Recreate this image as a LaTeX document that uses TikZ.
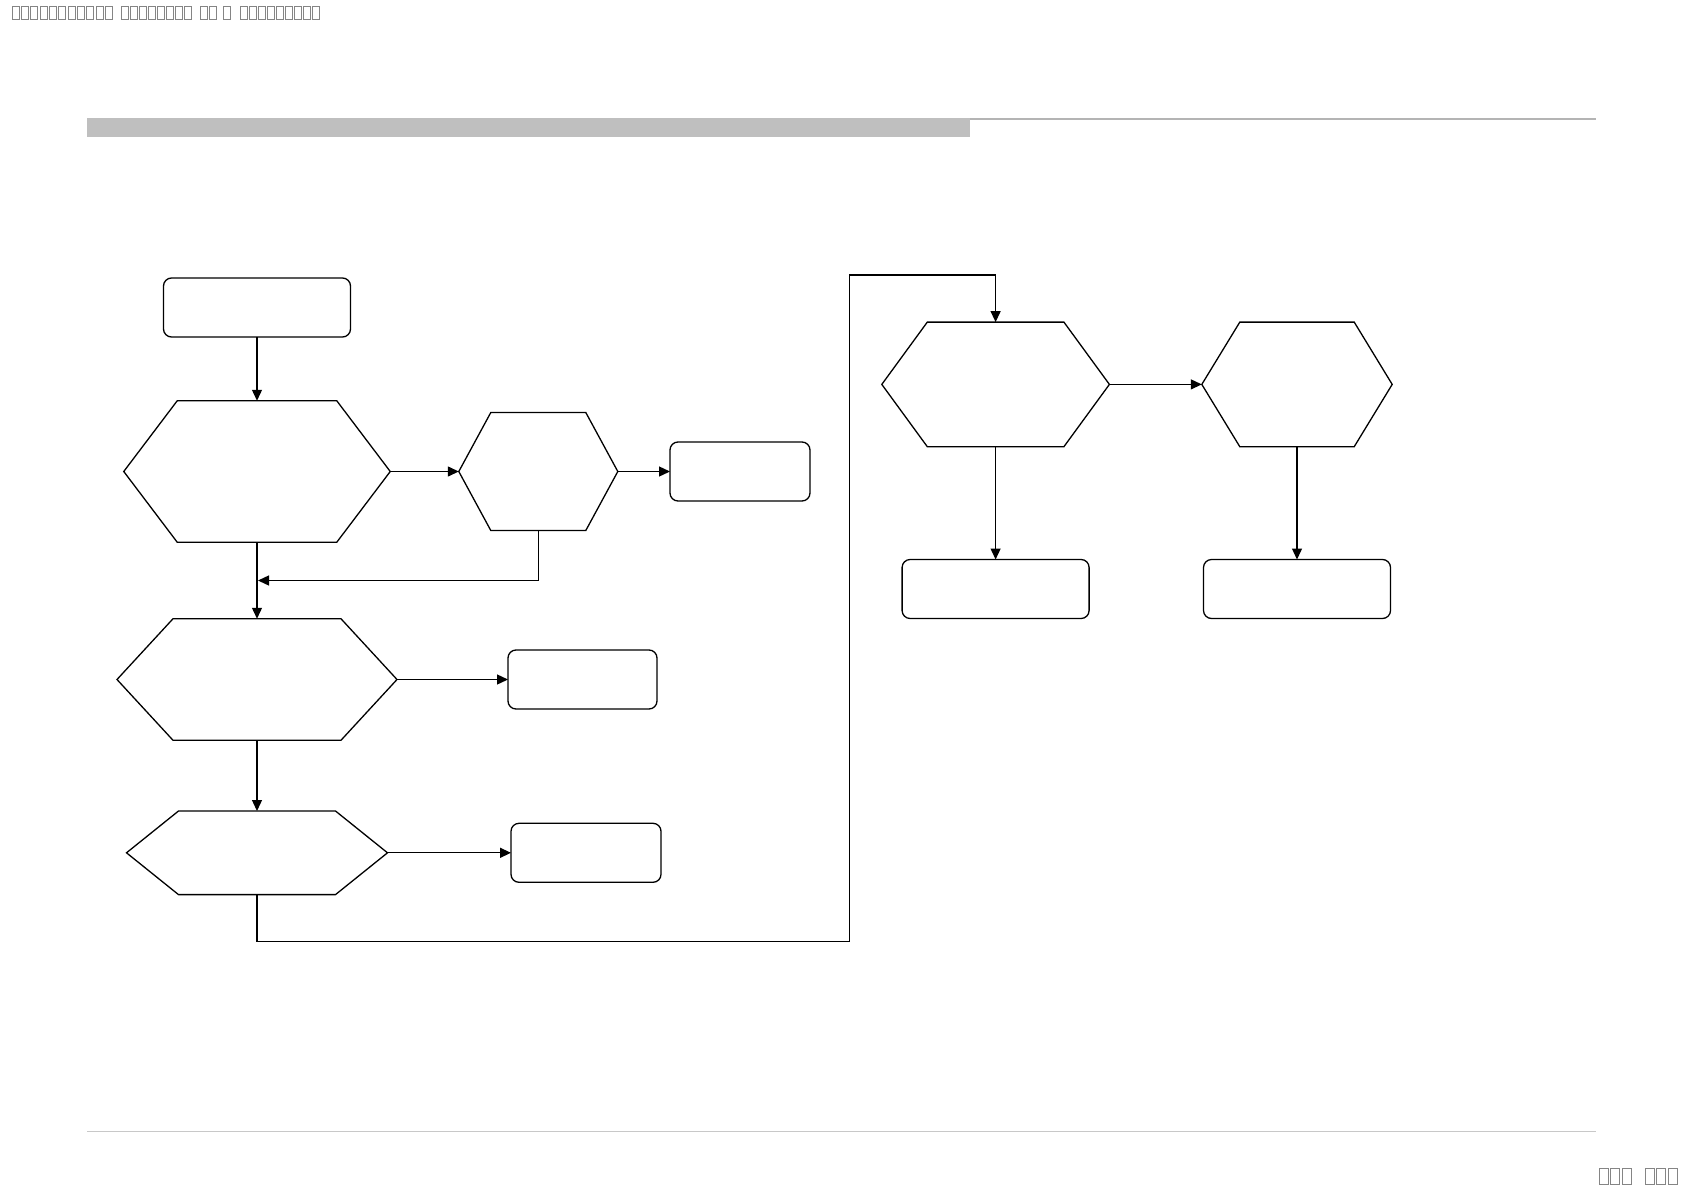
\documentclass[tikz,border=0pt]{standalone}
\usepackage{tikz}
\usetikzlibrary{arrows.meta,calc}

\definecolor{barGray}{HTML}{BFBFBF}
\definecolor{ruleGray}{HTML}{B4B4B4}
\definecolor{footGray}{HTML}{C8C8C8}
\definecolor{tofuGray}{HTML}{858585}

\tikzset{
    flow/.style={-{Triangle[length=11pt,width=10pt]}, line width=1.3pt},
    termbox/.style={draw, rounded corners=8pt, line width=1.3pt, inner sep=0pt, outer sep=0pt, minimum height=59pt},
    hexframe/.style={inner sep=0pt, outer sep=0pt},
    hexline/.style={line width=1.3pt, line join=miter},
    tofu/.style={draw=tofuGray, line width=0.8pt}
}

% hexagon: name, x, y, width, height, inset
\newcommand{\hexnode}[6]{%
    \node[hexframe, minimum width=#4, minimum height=#5] (#1) at (#2,#3) {};
    \draw[hexline] (#1.west) -- ([xshift=#6]#1.north west) -- ([xshift=-#6]#1.north east)
        -- (#1.east) -- ([xshift=-#6]#1.south east) -- ([xshift=#6]#1.south west) -- cycle;
}

\begin{document}
\begin{tikzpicture}[x=1pt, y=-1pt]

\useasboundingbox (0,0) rectangle (1684,1191);

% Header glyphs
\foreach \i in {0,...,10} {
    \draw[tofu] (12+9.35*\i, 6) rectangle ++(7,13);
}
\foreach \i in {0,...,7} {
    \draw[tofu] (121+9.1*\i, 6) rectangle ++(7,13);
}
\foreach \x in {200, 209.5, 223} {
    \draw[tofu] (\x, 6) rectangle ++(7,13);
}
\foreach \i in {0,...,8} {
    \draw[tofu] (240+9.1*\i, 6) rectangle ++(7,13);
}

% Title bar
\fill[barGray] (87,118) rectangle (970,137);
\draw[ruleGray, line width=1.5pt] (970,119) -- (1596,119);

% Footer
\draw[footGray, line width=1pt] (87,1131) -- (1596,1131);
\foreach \x in {1599, 1610.5, 1622, 1645, 1656.5, 1668} {
    \draw[tofu] (\x, 1168) rectangle ++(9,16);
}

% Left column
\node[termbox, minimum width=187pt] (start) at (257,307.5) {};
\hexnode{hexA}{257}{471.5}{266.5pt}{141.5pt}{53.5pt}
\hexnode{hexB}{538.3}{471.5}{159pt}{118pt}{32pt}
\node[termbox, minimum width=140pt] (endB) at (740,471.5) {};
\hexnode{hexC}{257}{679.5}{280pt}{121.5pt}{56pt}
\node[termbox, minimum width=149pt] (endC) at (582.5,679.5) {};
\hexnode{hexD}{257}{852.8}{261pt}{83.6pt}{52pt}
\node[termbox, minimum width=150pt] (endD) at (586,852.8) {};

% Right column
\hexnode{hexE}{995.6}{384.4}{227.6pt}{124.6pt}{45.5pt}
\hexnode{hexF}{1297}{384.4}{190.4pt}{124.6pt}{38pt}
\node[termbox, minimum width=187pt] (endE) at (995.6,589) {};
\node[termbox, minimum width=187pt] (endF) at (1297,589) {};

% Connectors
\draw[flow] (start.south) -- (hexA.north);
\draw[flow] (hexA.east) -- (hexB.west);
\draw[flow] (hexB.east) -- (endB.west);
\coordinate (merge) at ($(hexA.south)!0.5!(hexC.north)$);
\draw[flow] (hexB.south) |- ([xshift=1pt]merge);
\draw[flow] (hexA.south) -- (hexC.north);
\draw[flow] (hexC.east) -- (endC.west);
\draw[flow] (hexC.south) -- (hexD.north);
\draw[flow] (hexD.east) -- (endD.west);

\coordinate (loopA) at (849.5,941.5);
\coordinate (loopB) at (849.5,275);
\draw[flow] (hexD.south) |- (loopA) -- (loopB) -| (hexE.north);

\draw[flow] (hexE.east) -- (hexF.west);
\draw[flow] (hexE.south) -- (endE.north);
\draw[flow] (hexF.south) -- (endF.north);

\end{tikzpicture}
\end{document}
